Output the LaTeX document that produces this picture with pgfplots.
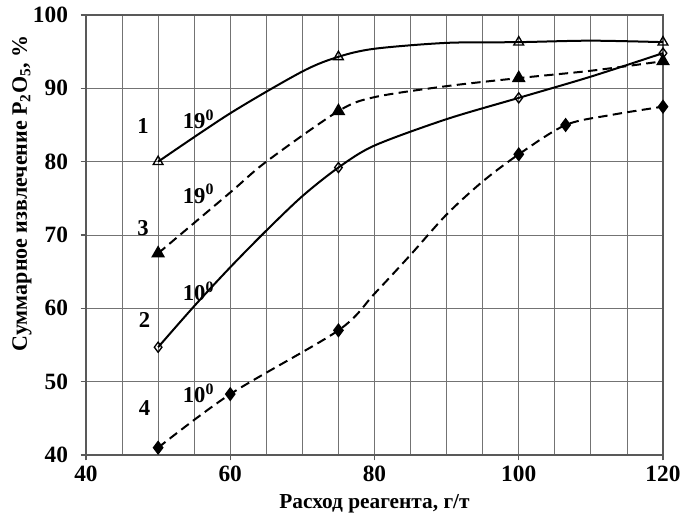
\documentclass[border=0pt]{standalone}
\usepackage{fontspec}
\setmainfont{Liberation Serif}
\usepackage{pgfplots}
\pgfplotsset{compat=1.18}
\begin{document}
\begin{tikzpicture}
\useasboundingbox (-64.5pt,-45pt) rectangle (446.25pt,341.25pt);
\begin{axis}[
  scale only axis,
  width=432.75pt, height=330pt,
  xmin=40, xmax=120, ymin=40, ymax=100,
  xtick={40,60,...,120}, ytick={40,50,...,100},
  minor xtick={45,50,...,115},
  grid=both,
  major grid style={draw=gray!90!black, line width=0.6pt},
  minor grid style={draw=gray!90!black, line width=0.6pt},
  axis line style={draw=gray!70!black, line width=0.8pt},
  tick align=outside, tick pos=left,
  major tick length=4pt, minor tick length=0pt,
  tick style={draw=gray!70!black, line width=0.8pt},
  /pgf/number format/assume math mode=true,
  ticklabel style={font=\bfseries\fontsize{17.5}{17.5}\selectfont},
  xticklabel style={yshift=-1pt},
  yticklabel style={xshift=-6pt},
  xlabel={\bfseries\fontsize{16}{16}\selectfont Расход реагента, г/т},
  ylabel={\bfseries\fontsize{16.5}{16.5}\selectfont Суммарное извлечение P\textsubscript{2}O\textsubscript{5}, \%},
  xlabel style={at={(axis description cs:0.5,0)}, anchor=north, yshift=-26pt},
  ylabel style={at={(axis description cs:-0.111,0.595)}, anchor=center},
  every axis plot/.append style={black, line width=1.5pt, smooth, tension=0.5},
  clip=false,
]
% curve 1: solid, open triangles
\addplot[mark=none] coordinates {(50,80) (60,86.6) (70,92.3) (75,94.3) (80,95.4) (90,96.2) (100,96.3) (110,96.5) (120,96.3)};
\addplot[only marks, mark=triangle, mark size=4.2pt, line width=1pt] coordinates {(50,80) (75,94.3) (100,96.3) (120,96.3)};
% curve 3: dashed, filled triangles
\addplot[dash pattern=on 7pt off 4pt, mark=none] coordinates {(50,67.5) (60,75.8) (65,80) (75,86.9) (80,88.8) (90,90.3) (100,91.4) (110,92.4) (120,93.7)};
\addplot[only marks, mark=triangle*, mark size=4.5pt] coordinates {(50,67.5) (75,86.9) (100,91.4) (120,93.7)};
% curve 2: solid, open diamonds
\addplot[mark=none] coordinates {(50,54.7) (55,60.3) (60,65.6) (65,70.6) (70,75.3) (75,79.2) (80,82.2) (90,85.8) (100,88.7) (110,91.6) (120,94.8)};
\addplot[only marks, mark=diamond, mark size=3.8pt, line width=1pt] coordinates {(50,54.7) (75,79.2) (100,88.7) (120,94.8)};
% curve 4: dashed, filled diamonds
\addplot[dash pattern=on 7pt off 4pt, mark=none] coordinates {(50,41) (60,48.3) (75,57) (80,62) (85,67.3) (90,72.8) (95,77.3) (100,81) (106.5,85) (113,86.4) (120,87.5)};
\addplot[only marks, mark=diamond*, mark size=4.2pt] coordinates {(50,41) (60,48.3) (75,57) (100,81) (106.5,85) (120,87.5)};
% labels
\node[font=\bfseries\fontsize{17}{17}\selectfont] at (axis cs:47.9,84.9) {1};
\node[font=\bfseries\fontsize{17}{17}\selectfont] at (axis cs:47.9,71.0) {3};
\node[font=\bfseries\fontsize{17}{17}\selectfont] at (axis cs:48.1,58.4) {2};
\node[font=\bfseries\fontsize{17}{17}\selectfont] at (axis cs:48.1,46.4) {4};
\node[font=\bfseries\fontsize{17}{17}\selectfont] at (axis cs:55.6,85.8) {19\textsuperscript{0}};
\node[font=\bfseries\fontsize{17}{17}\selectfont] at (axis cs:55.6,75.6) {19\textsuperscript{0}};
\node[font=\bfseries\fontsize{17}{17}\selectfont] at (axis cs:55.6,62.3) {10\textsuperscript{0}};
\node[font=\bfseries\fontsize{17}{17}\selectfont] at (axis cs:55.6,48.4) {10\textsuperscript{0}};
\end{axis}
\end{tikzpicture}
\end{document}
